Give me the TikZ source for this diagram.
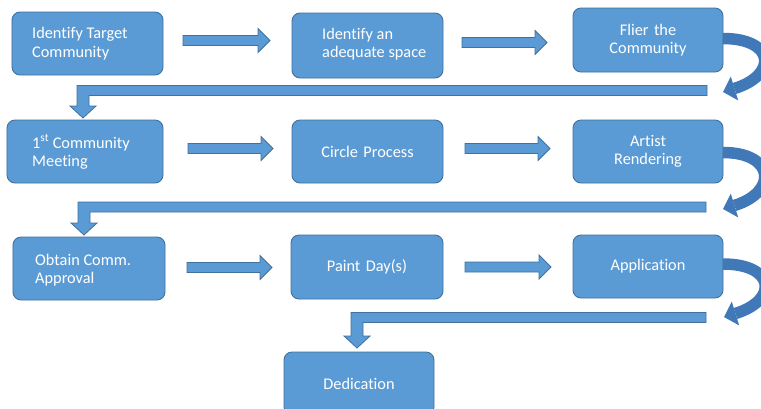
\documentclass[tikz,border=0pt]{standalone}
\usepackage{fontspec}
\setmainfont{Carlito}[Ligatures=NoCommon]
\usetikzlibrary{calc,arrows.meta}
\definecolor{boxfill}{HTML}{5B9BD5}
\definecolor{boxline}{HTML}{41719C}
\definecolor{curvecol}{HTML}{4078B8}
% horizontal block arrow: #1 start (shaft centre), #2 tip
\newcommand{\blkarrow}[2]{%
  \draw[blockarr] ($(#1)+(0,-5)$) -- ($(#2)+(-12,-5)$) -- ($(#2)+(-12,-12)$) -- (#2)
    -- ($(#2)+(-12,12)$) -- ($(#2)+(-12,5)$) -- ($(#1)+(0,5)$) -- cycle;}
% return connector: #1 right end of bar, #2 tip, #3 name for corner
\newcommand{\retarrow}[3]{%
  \coordinate (#3) at (#2 |- #1);
  \draw[blockarr] ($(#1)+(0,-5)$) -- ($(#3)+(-6,-5)$) -- ($(#2)+(-6,-12)$) -- ($(#2)+(-13,-12)$)
    -- (#2) -- ($(#2)+(13,-12)$) -- ($(#2)+(6,-12)$) -- ($(#3)+(6,5)$) -- ($(#1)+(0,5)$) -- cycle;}
\begin{document}
\begin{tikzpicture}[x=1bp,y=-1bp,
  box/.style={rounded corners=8bp, fill=boxfill, draw=boxline, line width=0.9bp,
    text=white, font=\fontsize{16.3bp}{18.5bp}\selectfont, outer sep=0pt,
    inner ysep=0pt, minimum height=63bp},
  txt/.style={text=white, font=\fontsize{16.3bp}{18.5bp}\selectfont, inner sep=0pt,
    align=left, anchor=west},
  blockarr/.style={fill=boxfill, draw=boxline, line width=0.8bp, line join=miter},
  curvearr/.style={draw=curvecol, line width=11.5bp,
    -{Triangle[width=25bp,length=12bp,line width=0pt]}}]
\fill[white] (0,0) rectangle (761,408);
\useasboundingbox (0,0) rectangle (761,408);
% row 1
\node[box, minimum width=151bp] (b1) at (87.5,43.5) {};
\node[txt] (b1t) at ($(b1.west)+(20,0)$) {Identify Target\\Community};
\node[box, minimum width=151bp, minimum height=65bp] (b2) at (367.5,45.5) {};
\node[txt] (b2t) at ($(b2.west)+(30,-1.5)$) {Identify an\\adequate space};
\node[box, minimum width=150bp, minimum height=64bp, text width=130bp, inner xsep=10bp, align=center] (b3) at (648,40) {Flier the\\Community};
% row 2
\node[box, minimum width=156bp] (b4) at (85,151.5) {};
\node[txt] (b4t) at ($(b4.west)+(25,0.5)$) {1\textsuperscript{st} Community\\Meeting};
\node[box, minimum width=151bp, text width=131bp, inner xsep=10bp, align=center] (b5) at (367.5,151.5) {Circle Process};
\node[box, minimum width=150bp, text width=130bp, inner xsep=10bp, align=center] (b6) at (648,151.5) {Artist\\Rendering};
% row 3
\node[box, minimum width=152bp] (b7) at (89,268.5) {};
\node[txt] (b7t) at ($(b7.west)+(22,1.5)$) {Obtain Comm.\\Approval};
\node[box, minimum width=152bp, minimum height=64bp, text width=132bp, inner xsep=10bp, align=center] (b8) at (367,267) {Paint Day(s)};
\node[box, minimum width=150bp, text width=130bp, inner xsep=10bp, align=center] (b9) at (648,266.5) {Application};
% row 4
\node[box, minimum width=150bp, text width=130bp, inner xsep=10bp, align=center] (b10) at (359,383.5) {Dedication};
% horizontal arrows
\coordinate (a1s) at ($(b1.east)+(20,-3)$);
\coordinate (a1e) at ($(a1s -| b2.west)+(-22,0)$);
\coordinate (a2s) at ($(b2.east)+(19,-3)$);
\coordinate (a2e) at ($(a2s -| b3.west)+(-26,0)$);
\coordinate (a3s) at ($(b4.east)+(25,-3)$);
\coordinate (a3e) at ($(a3s -| b5.west)+(-19,0)$);
\coordinate (a4s) at ($(b5.east)+(22,-3)$);
\coordinate (a4e) at ($(a4s -| b6.west)+(-23,0)$);
\coordinate (a5s) at ($(b7.east)+(22,-1)$);
\coordinate (a5e) at ($(a5s -| b8.west)+(-19,0)$);
\coordinate (a6s) at ($(b8.east)+(22,0)$);
\coordinate (a6e) at ($(a6s -| b9.west)+(-22,0)$);
\blkarrow{a1s}{a1e}
\blkarrow{a2s}{a2e}
\blkarrow{a3s}{a3e}
\blkarrow{a4s}{a4e}
\blkarrow{a5s}{a5e}
\blkarrow{a6s}{a6e}
% return connectors
\coordinate (r1) at ($(b3.east)+(-16,50.5)$);
\coordinate (t1) at ($(b4.north)+(-2,-2)$);
\retarrow{r1}{t1}{k1}
\coordinate (r2) at ($(b6.east)+(-17,55.5)$);
\coordinate (t2) at ($(b7.north)+(-5,-2)$);
\retarrow{r2}{t2}{k2}
\coordinate (r3) at ($(b9.east)+(-17,51)$);
\coordinate (t3) at ($(b10.north)+(-2,-4)$);
\retarrow{r3}{t3}{k3}
% curved arrows
\coordinate (c1s) at ($(b3.east)+(0,-1.5)$);
\coordinate (c1e) at ($(b3.east)+(0,52)$);
\draw[curvearr] (c1s) .. controls ($(c1s)+(52,0)$) and ($(c1e)+(55,-17)$) .. (c1e);
\coordinate (c2s) at ($(b6.east)+(0,1)$);
\coordinate (c2e) at ($(b6.east)+(0,57.5)$);
\draw[curvearr] (c2s) .. controls ($(c2s)+(52,0)$) and ($(c2e)+(55,-17)$) .. (c2e);
\coordinate (c3s) at ($(b9.east)+(0,-2.5)$);
\coordinate (c3e) at ($(b9.east)+(1,50.5)$);
\draw[curvearr] (c3s) .. controls ($(c3s)+(52,0)$) and ($(c3e)+(55,-17)$) .. (c3e);
\end{tikzpicture}
\end{document}
